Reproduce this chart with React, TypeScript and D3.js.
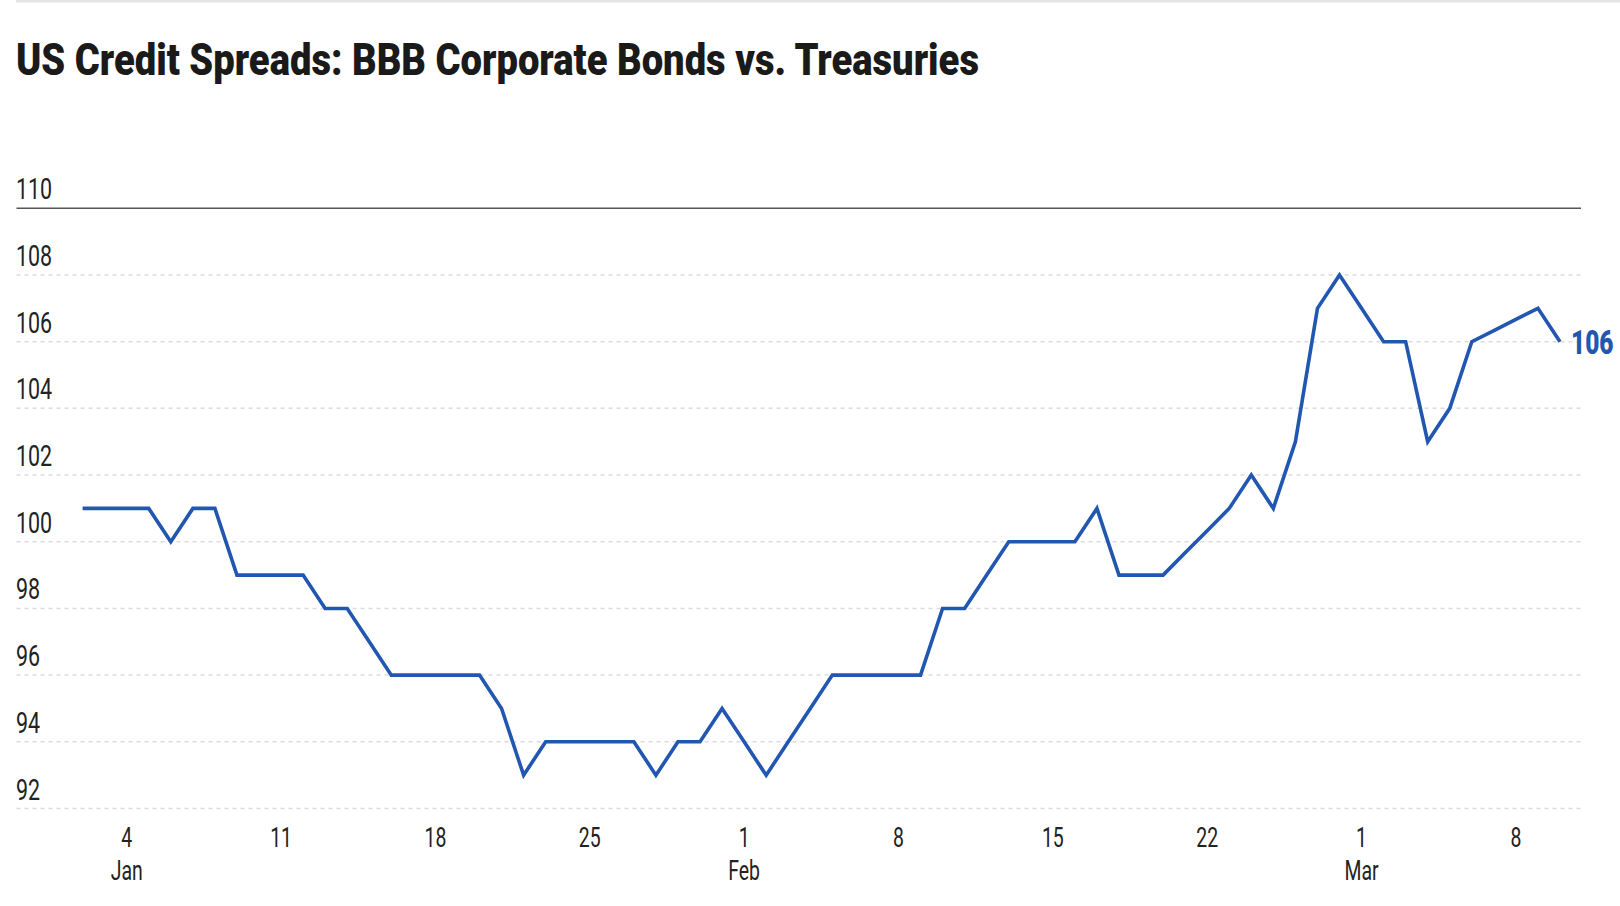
import React from "react";
import * as d3 from "d3";

const TITLE = "US Credit Spreads: BBB Corporate Bonds vs. Treasuries";
const START_DATE = "2025-01-02";
const SPREAD_VALUES: number[] = [
  // Jan 2 - Jan 31
  101, 101, 101, 101, 100, 101, 101, 99, 99, 99, 99, 98, 98, 97, 96, 96, 96, 96, 96, 95,
  93, 94, 94, 94, 94, 94, 93, 94, 94, 95,
  // Feb 1 - Feb 28
  94, 93, 94, 95, 96, 96, 96, 96, 96, 98, 98, 99, 100, 100, 100, 100, 101, 99, 99, 99,
  99.67, 100.33, 101, 102, 101, 103, 107, 108,
  // Mar 1 - Mar 10
  107, 106, 106, 103, 104, 106, 106.33, 106.67, 107, 106,
];
const Y_TICKS = [92, 94, 96, 98, 100, 102, 104, 106, 108, 110];
const X_TICK_DATES = [
  "2025-01-04", "2025-01-11", "2025-01-18", "2025-01-25", "2025-02-01",
  "2025-02-08", "2025-02-15", "2025-02-22", "2025-03-01", "2025-03-08",
];
const MONTH_LABELS: Record<string, string> = {
  "2025-01-04": "Jan",
  "2025-02-01": "Feb",
  "2025-03-01": "Mar",
};

const W = 1620;
const H = 906;
const LINE_COLOR = "#2157b0";
const FONT = "Roboto, 'Liberation Sans', sans-serif";

const parse = d3.utcParse("%Y-%m-%d");

function NarrowText(props: {
  x: number;
  y: number;
  sx: number;
  size: number;
  weight?: number;
  fill: string;
  anchor?: "start" | "middle" | "end";
  children: React.ReactNode;
}) {
  const { x, y, sx, size, weight = 400, fill, anchor = "start", children } = props;
  return (
    <text
      transform={`translate(${x},${y}) scale(${sx},1)`}
      fontFamily={FONT}
      fontSize={size}
      fontWeight={weight}
      fill={fill}
      textAnchor={anchor}
    >
      {children}
    </text>
  );
}

export default function App() {
  const start = parse(START_DATE)!;
  const data = SPREAD_VALUES.map((v, i) => ({
    date: d3.utcDay.offset(start, i),
    value: v,
  }));

  const x = d3
    .scaleUtc()
    .domain([data[0].date, data[data.length - 1].date])
    .range([82.6, 1560]);
  const y = d3.scaleLinear().domain([92, 110]).range([808.5, 208.3]);

  const line = d3
    .line<{ date: Date; value: number }>()
    .x((d) => x(d.date))
    .y((d) => y(d.value));

  const gridX0 = 16.5;
  const gridX1 = 1581;
  const last = data[data.length - 1];

  return (
    <svg
      width={W}
      height={H}
      viewBox={`0 0 ${W} ${H}`}
      style={{ position: "absolute", left: 0, top: 0, background: "#fff" }}
    >
      <rect x={16} y={0} width={W - 16} height={2.5} fill="#e4e4e4" />
      <text
        x={16}
        y={75}
        fontFamily={FONT}
        fontWeight={900}
        fontSize={45}
        fill="#1a1a1a"
        textLength={963}
        lengthAdjust="spacingAndGlyphs"
      >
        {TITLE}
      </text>

      {Y_TICKS.map((t) => (
        <g key={t}>
          <line
            x1={gridX0}
            x2={gridX1}
            y1={y(t)}
            y2={y(t)}
            stroke={t === 110 ? "#555" : "#dcdcdc"}
            strokeWidth={1.5}
            strokeDasharray={t === 110 ? undefined : "4 4"}
          />
          <NarrowText x={16} y={y(t) - 9} sx={0.74} size={29} fill="#222">
            {t}
          </NarrowText>
        </g>
      ))}

      {X_TICK_DATES.map((s) => {
        const d = parse(s)!;
        const xx = x(d);
        return (
          <g key={s}>
            <NarrowText x={xx} y={846.5} sx={0.72} size={27} fill="#222" anchor="middle">
              {d.getUTCDate()}
            </NarrowText>
            {MONTH_LABELS[s] && (
              <NarrowText x={xx} y={880} sx={0.72} size={27} fill="#222" anchor="middle">
                {MONTH_LABELS[s]}
              </NarrowText>
            )}
          </g>
        );
      })}

      <path
        d={line(data) ?? ""}
        fill="none"
        stroke={LINE_COLOR}
        strokeWidth={3.6}
        strokeLinejoin="miter"
      />
      <NarrowText
        x={x(last.date) + 11}
        y={y(last.value) + 12}
        sx={0.72}
        size={34}
        weight={900}
        fill={LINE_COLOR}
      >
        {Math.round(last.value)}
      </NarrowText>
    </svg>
  );
}
